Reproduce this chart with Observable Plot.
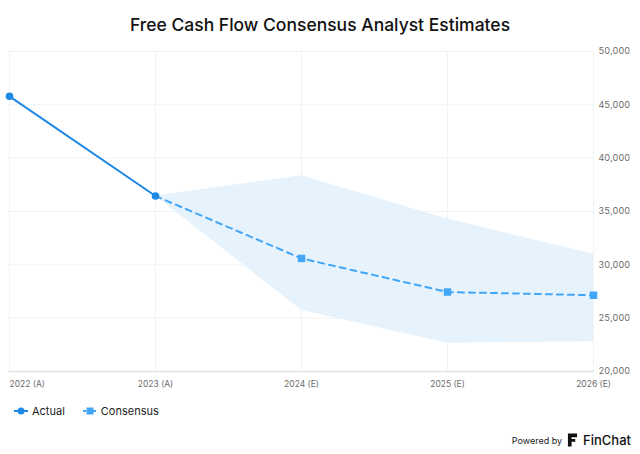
<!DOCTYPE html>
<html>
<head>
<meta charset="utf-8">
<script src="https://cdn.jsdelivr.net/npm/d3@7"></script>
<script src="https://cdn.jsdelivr.net/npm/@observablehq/plot@0.6"></script>
<style>
  html, body { margin: 0; padding: 0; background: #fff; }
  body { width: 640px; height: 454px; position: relative; font-family: Inter, "Noto Sans", sans-serif; overflow: hidden; }
  #title { position: absolute; top: 0; left: 0; width: 640px; height: 50px; line-height: 50px; text-align: center; font-size: 17.5px; font-weight: 500; color: #111; }
  #chart { position: absolute; top: 40px; left: 0; }
  #legend { position: absolute; top: 404px; left: 14px; display: flex; align-items: center; font-size: 11px; color: #222; }
  #legend .item { display: flex; align-items: center; margin-right: 18px; }
  #legend svg { margin-right: 4px; }
  #powered { position: absolute; top: 432px; right: 9px; display: flex; align-items: center; color: #111; }
  #powered .small { font-size: 9px; margin-right: 5px; color: #222; }
  #powered .brand { font-size: 13px; font-weight: 500; margin-left: 5px; }
</style>
</head>
<body>
<div id="title">Free Cash Flow Consensus Analyst Estimates</div>
<div id="chart"></div>
<div id="legend">
  <div class="item"><svg width="14" height="10"><line x1="0" y1="5" x2="14" y2="5" stroke="#1e88e5" stroke-width="2"/><circle cx="7" cy="5" r="3.5" fill="#1e88e5"/></svg>Actual</div>
  <div class="item"><svg width="14" height="10"><line x1="0" y1="5" x2="14" y2="5" stroke="#42a5f5" stroke-width="2" stroke-dasharray="3,2"/><rect x="3.5" y="1.5" width="7" height="7" fill="#42a5f5"/></svg>Consensus</div>
</div>
<div id="powered"><span class="small">Powered by</span><svg width="11" height="16" viewBox="0 0 12 16"><path d="M1 1 H11 V5 H5 V7 H9 V10 H5 V15 H1 Z" fill="#111"/></svg><span class="brand">FinChat</span></div>
<script>
const categories = ["2022 (A)", "2023 (A)", "2024 (E)", "2025 (E)", "2026 (E)"];
const actualYears = ["2022 (A)", "2023 (A)"];
const actualValues = [45800, 36450];
const consensusYears = ["2023 (A)", "2024 (E)", "2025 (E)", "2026 (E)"];
const consensusValues = [36450, 30600, 27450, 27150];
const highValues = [36450, 38350, 34300, 31000];
const lowValues = [36450, 25750, 22650, 22800];
const yTicks = [20000, 25000, 30000, 35000, 40000, 45000, 50000];

const actual = actualYears.map((x, i) => ({x, y: actualValues[i]}));
const consensus = consensusYears.map((x, i) => ({x, y: consensusValues[i], hi: highValues[i], lo: lowValues[i]}));

const fmt = d3.format(",");
const chart = Plot.plot({
  width: 640,
  height: 355,
  marginTop: 11,
  marginBottom: 24,
  marginLeft: 8,
  marginRight: 46,
  style: { fontFamily: "Inter, 'Noto Sans', sans-serif", fontSize: "9px", color: "#666", background: "transparent" },
  x: { type: "point", domain: categories, padding: 0 },
  y: { domain: [20000, 50000] },
  marks: [
    Plot.gridX(categories, { stroke: "#f2f2f2", strokeOpacity: 1 }),
    Plot.gridY(yTicks, { stroke: "#f2f2f2", strokeOpacity: 1 }),
    Plot.ruleY([20000], { stroke: "#e2e2e2", strokeWidth: 1.5 }),
    Plot.areaY(consensus, { x: "x", y1: "lo", y2: "hi", fill: "#e6f3fd", fillOpacity: 1, curve: "linear" }),
    Plot.line(actual, { x: "x", y: "y", stroke: "#1e88e5", strokeWidth: 2 }),
    Plot.line(consensus, { x: "x", y: "y", stroke: "#42a5f5", strokeWidth: 2, strokeDasharray: "6,5" }),
    Plot.dot(actual, { x: "x", y: "y", r: 3.8, fill: "#1e88e5", symbol: "circle" }),
    Plot.dot(consensus.slice(1), { x: "x", y: "y", r: 4.2, fill: "#42a5f5", symbol: "square" }),
    Plot.axisY({ anchor: "right", ticks: yTicks, tickFormat: fmt, tickSize: 0, tickPadding: 4, label: null, fill: "#6b6b6b", fontSize: 9 }),
    Plot.axisX({ ticks: [categories[0]], tickSize: 0, tickPadding: 9, textAnchor: "start", label: null, fill: "#6b6b6b", fontSize: 8.5 }),
    Plot.axisX({ ticks: categories.slice(1), tickSize: 0, tickPadding: 9, label: null, fill: "#6b6b6b", fontSize: 8.5 })
  ]
});
document.getElementById("chart").appendChild(chart);
</script>
</body>
</html>
